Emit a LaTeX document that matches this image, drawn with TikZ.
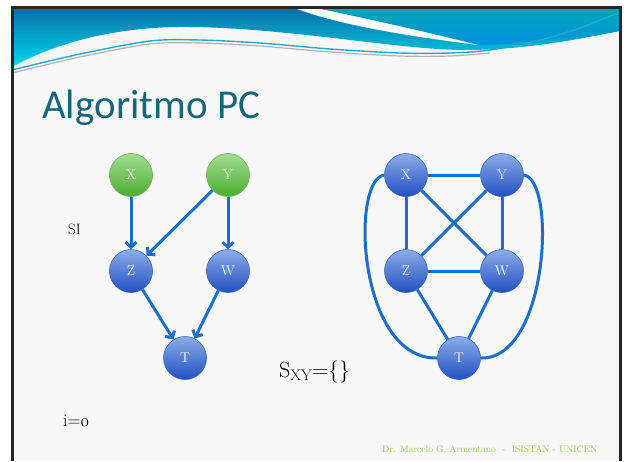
\documentclass[tikz,border=0pt]{standalone}
\usepackage{fontspec}
\newfontfamily\titlefont{Carlito}
\usetikzlibrary{arrows.meta}

\begin{document}
\begin{tikzpicture}[x=1pt, y=-1pt,
  gvar/.style={circle, minimum size=43pt, inner sep=0pt, draw=vargline, line width=0.6pt,
    top color=vargtop, bottom color=vargbot, text=white, font=\fontsize{14}{16}\selectfont},
  bvar/.style={circle, minimum size=43pt, inner sep=0pt, draw=varbline, line width=0.6pt,
    top color=varbtop, bottom color=varbbot, text=white, font=\fontsize{14}{16}\selectfont},
  link/.style={draw=edgeblue, line width=3pt},
  dlink/.style={link, -{Straight Barb[length=5pt, width=11pt]}},
  slidetext/.style={anchor=base west, inner sep=0pt}]
  \definecolor{slidebg}{HTML}{F8F8F8}
  \definecolor{bandtop}{HTML}{0A6EA6}
  \definecolor{bandlow}{HTML}{00D8EA}
  \definecolor{bandrtop}{HTML}{00A7B6}
  \definecolor{bandrlow}{HTML}{0092E0}
  \definecolor{swoosh}{HTML}{22AACB}
  \definecolor{titleteal}{HTML}{17667B}
  \definecolor{vargtop}{HTML}{A2DC92}
  \definecolor{vargbot}{HTML}{4AAE2E}
  \definecolor{vargline}{HTML}{6DB25A}
  \definecolor{varbtop}{HTML}{8AADE8}
  \definecolor{varbbot}{HTML}{2150C2}
  \definecolor{varbline}{HTML}{3A62B6}
  \definecolor{edgeblue}{HTML}{1E6EC6}
  \definecolor{footgreen}{HTML}{9DC852}

  \useasboundingbox (0,0) rectangle (624,461);
  \fill[white] (0,0) rectangle (624,461);
  \fill[slidebg] (12,7) rectangle (620,461);

  \shade[top color=bandtop, bottom color=bandlow] (12,7) -- (620,7) -- (620,31)
    .. controls (570,41) and (520,50) .. (465,50)
    .. controls (400,50) and (290,28) .. (190,27)
    .. controls (110,26) and (50,46) .. (12,67) -- cycle;
  \shade[top color=bandrtop, bottom color=bandrlow] (313,7) -- (620,7) -- (620,29)
    .. controls (570,37) and (520,45) .. (480,45)
    .. controls (430,32) and (370,18) .. (313,7) -- cycle;
  \fill[white] (292,7) -- (311,7) .. controls (370,19) and (430,33) .. (478,45)
    .. controls (400,35) and (335,24) .. (292,7) -- cycle;
  \draw[gray!60, line width=1.2pt] plot[smooth] coordinates {(12,73) (80,57) (150,44) (200,43)
    (260,46) (330,52) (400,56) (450,56) (490,53)};
  \draw[swoosh, line width=1.4pt] plot[smooth] coordinates {(12,70) (80,54) (150,41) (200,40)
    (260,43) (330,49) (400,53) (450,53) (490,50) (540,40) (580,28) (620,12)};
  \draw[black!85, line width=2.5pt] (12.5,461) -- (12.5,7.5) -- (620.5,7.5) -- (620.5,461);

  \node[slidetext, text=titleteal, font=\titlefont\fontsize{41}{48}\selectfont] (title) at (42,118) {Algoritmo PC};

  \node[gvar] (lX) at (131,175) {X};
  \node[gvar] (lY) at (228,175) {Y};
  \node[bvar] (lZ) at (131,271) {Z};
  \node[bvar] (lW) at (228,271) {W};
  \node[bvar] (lT) at (185,358) {T};

  \draw[dlink] (lX) -- (lZ);
  \draw[dlink] (lY) -- (lZ);
  \draw[dlink] (lY) -- (lW);
  \draw[dlink] (lZ) -- (lT);
  \draw[dlink] (lW) -- (lT);

  \node[bvar] (rX) at (406,175) {X};
  \node[bvar] (rY) at (502,175) {Y};
  \node[bvar] (rZ) at (406,271) {Z};
  \node[bvar] (rW) at (502,271) {W};
  \node[bvar] (rT) at (459,358) {T};

  \draw[link] (rX) -- (rY);
  \draw[link] (rX) -- (rZ);
  \draw[link] (rX) -- (rW);
  \draw[link] (rY) -- (rZ);
  \draw[link] (rY) -- (rW);
  \draw[link] (rZ) -- (rW);
  \draw[link] (rZ) -- (rT);
  \draw[link] (rW) -- (rT);
  \draw[link] (rX.west) .. controls (350,180) and (358,360) .. (rT.west);
  \draw[link] (rY.east) .. controls (557,180) and (548,360) .. (rT.east);

  \node[slidetext, font=\fontsize{15}{18}\selectfont] (si) at (68,234) {SI};
  \node[slidetext, font=\fontsize{22}{26}\selectfont] (sxy) at (279,377) {S\textsubscript{XY}=\{\}};
  \node[slidetext, font=\fontsize{18}{22}\selectfont] (iter) at (63,426) {i={\usefont{OML}{cmm}{m}{it}0}};
  \node[slidetext, text=footgreen, font=\fontsize{9.5}{11}\selectfont] (foot) at (382,452)
    {Dr. Marcelo G. Armentano~~-~~ISISTAN - UNICEN};
\end{tikzpicture}
\end{document}
